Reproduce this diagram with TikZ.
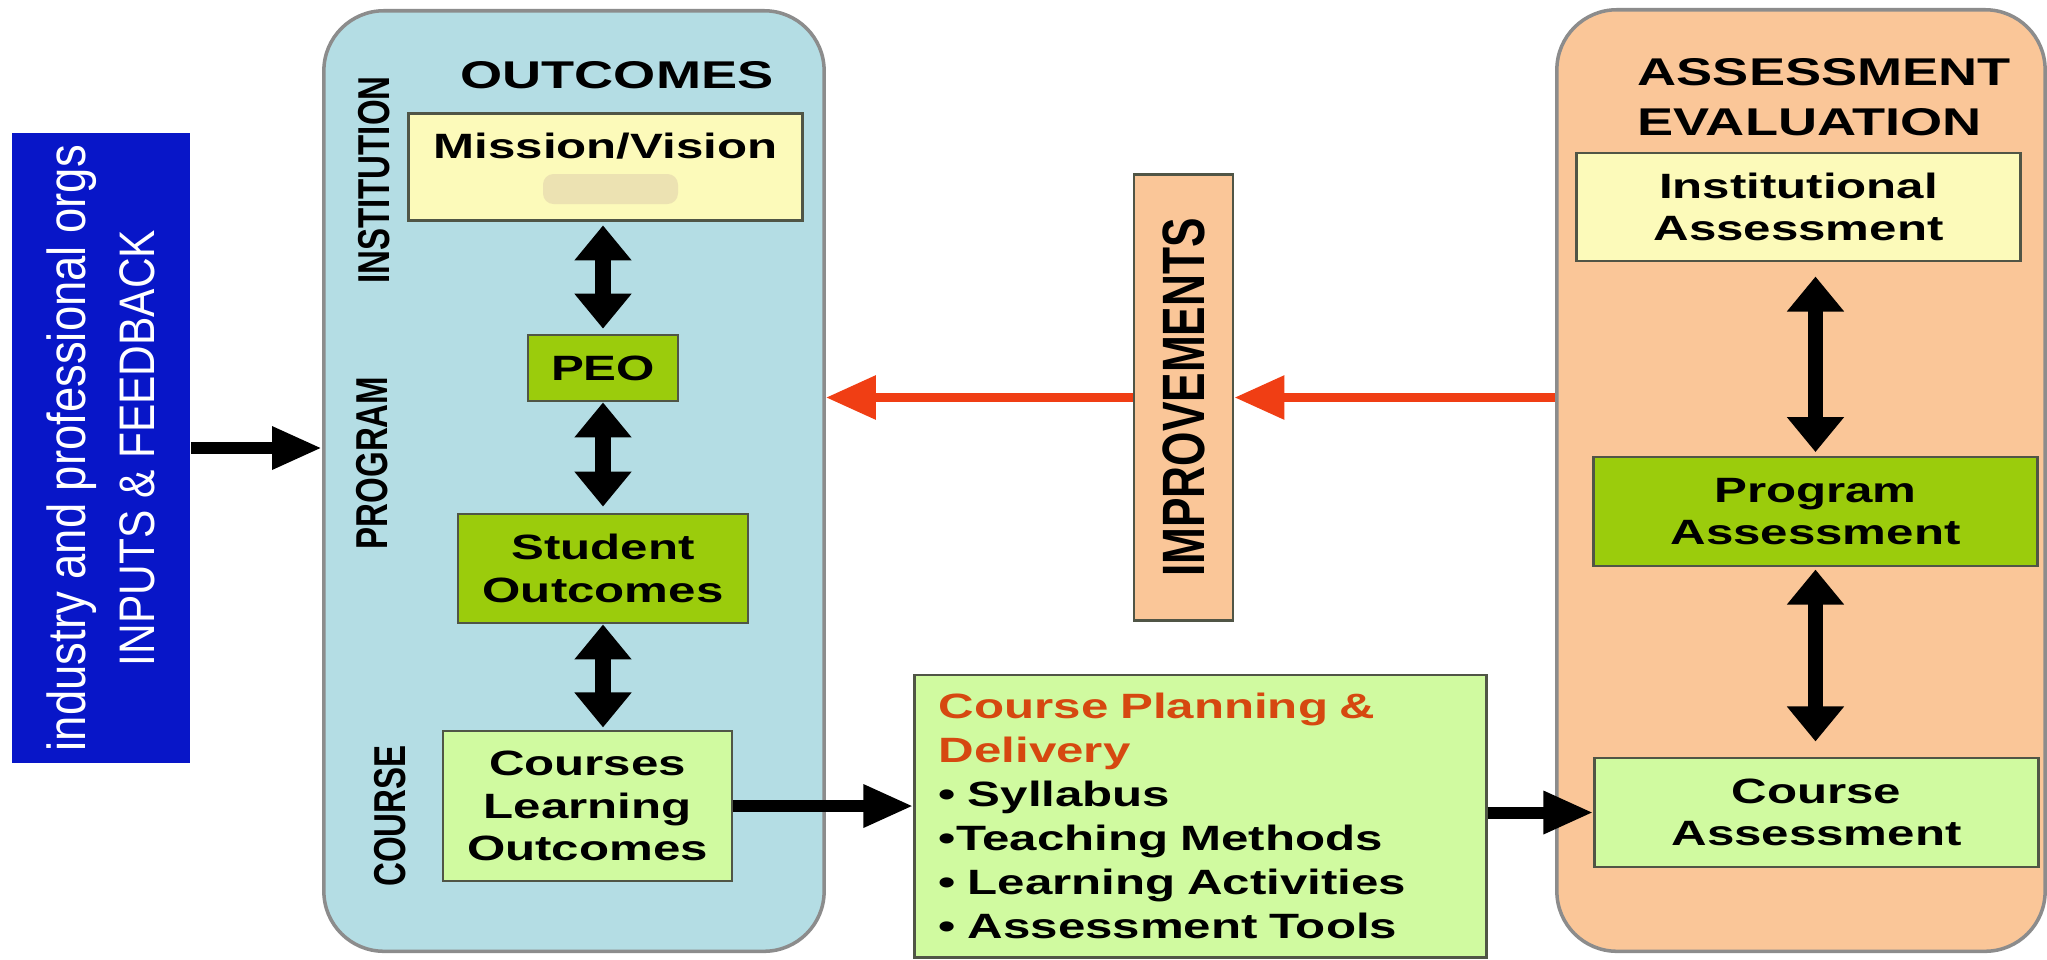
\documentclass[tikz,border=0pt]{standalone}
\usepackage{fontspec}
\setmainfont{Liberation Sans}[FakeStretch=1.4]
\newfontfamily\tallfont{Liberation Sans}[FakeStretch=0.74]
\newfontfamily\sidefont{Liberation Sans}[FakeStretch=0.85]
\usetikzlibrary{arrows.meta}

\definecolor{inputBlue}{RGB}{8,22,200}
\definecolor{outcomeCyan}{RGB}{180,221,228}
\definecolor{paleYellow}{RGB}{252,250,186}
\definecolor{blurTan}{RGB}{236,226,178}
\definecolor{leafGreen}{RGB}{155,204,12}
\definecolor{paleGreen}{RGB}{208,250,160}
\definecolor{peach}{RGB}{250,198,152}
\definecolor{improveRed}{RGB}{240,62,20}
\definecolor{planOrange}{RGB}{214,72,16}
\definecolor{edgeGray}{RGB}{80,85,70}

\tikzset{
  box/.style={draw=edgeGray, line width=0.8pt, inner sep=0pt, align=center,
    font=\bfseries\fontsize{10}{12}\selectfont},
  panel/.style={draw=black!45, line width=1pt, rounded corners=0.6cm, inner sep=0pt},
  sidelabel/.style={rotate=90, font=\tallfont\bfseries\fontsize{12.7}{14}\selectfont},
  title/.style={font=\bfseries\fontsize{11}{14.2}\selectfont, align=left, inner sep=0pt},
  hArrow/.style={line width=3.4pt, -{Triangle[length=0.5cm,width=0.4cm]}},
  vArrow/.style={line width=4.3pt,
    {Triangle[length=0.35cm,width=0.55cm]}-{Triangle[length=0.35cm,width=0.55cm]}},
  redArrow/.style={draw=improveRed, line width=2.6pt, -{Triangle[length=0.5cm,width=0.42cm]}}
}

\begin{document}
\begin{tikzpicture}[x=0.01cm, y=-0.01cm]
    \fill[white] (0,0) rectangle (2047,959);
    \useasboundingbox (0,0) rectangle (2047,959);

    % panels
    \node[panel, fill=outcomeCyan, minimum width=5cm, minimum height=9.4cm] (outPanel) at (574,481) {};
    \node[panel, fill=peach, minimum width=4.88cm, minimum height=9.41cm] (assPanel) at (1801,480.5) {};

    % inputs
    \node[fill=inputBlue, rotate=90, minimum width=6.25cm, minimum height=1.78cm, align=center,
      text=white, font=\sidefont\fontsize{15.2}{19.6}\selectfont] (inputs) at (101,448)
      {industry and professional orgs\\{\fontsize{14.2}{19.6}\selectfont INPUTS \& FEEDBACK}};

    % outcomes
    \node[title] (outTitle) at (617,75.5) {OUTCOMES};
    \node[sidelabel] (instLbl) at (374,180) {INSTITUTION};
    \node[sidelabel] (progLbl) at (372,463) {PROGRAM};
    \node[sidelabel] (courseLbl) at (390,816) {COURSE};

    \node[box, fill=paleYellow, minimum width=3.93cm, text height=0.455cm, text depth=0.615cm,
      anchor=north] (mission) at (605.5,112) {Mission/Vision};
    \fill[blurTan, rounded corners=3pt] (543,174) rectangle (678,204);
    \node[box, fill=leafGreen, minimum width=1.5cm, minimum height=0.66cm] (peo) at (603,368) {PEO};
    \node[box, fill=leafGreen, minimum width=2.9cm, minimum height=1.09cm] (student) at (603,568.5) {Student\\Outcomes};
    \node[box, fill=paleGreen, minimum width=2.89cm, minimum height=1.5cm] (clo) at (587.5,806) {Courses\\Learning\\Outcomes};

    \draw[vArrow, shorten <=1pt, shorten >=1.4pt] (mission.south -| peo.north) -- (peo.north);
    \draw[vArrow, shorten >=1.7pt] (peo.south) -- (peo.south |- student.north);
    \draw[vArrow, shorten >=0.6pt] (student.south) -- (student.south |- clo.north);

    % planning
    \node[box, fill=paleGreen, minimum width=5.71cm, minimum height=2.82cm, text width=5.23cm,
      align=left, inner xsep=0.24cm, font=\bfseries\fontsize{10}{12.5}\selectfont] (plan) at (1200.5,816)
      {{\color{planOrange}Course Planning \&}\\{\color{planOrange}Delivery}\\• Syllabus\\•Teaching Methods\\• Learning Activities\\• Assessment Tools};

    % improvements
    \node[box, fill=peach, rotate=90, minimum width=4.45cm, minimum height=0.99cm,
      font=\tallfont\bfseries\fontsize{17}{20}\selectfont] (impr) at (1183.5,397.5) {IMPROVEMENTS};

    % assessment
    \node[title, anchor=west] (assTitle) at (1637,97.5) {ASSESSMENT\\EVALUATION};
    \node[box, fill=paleYellow, minimum width=4.43cm, minimum height=1.08cm] (instAss) at (1798.5,207) {Institutional\\Assessment};
    \node[box, fill=leafGreen, minimum width=4.43cm, minimum height=1.09cm] (progAss) at (1815.5,511.5) {Program\\Assessment};
    \node[box, fill=paleGreen, minimum width=4.43cm, minimum height=1.09cm] (courseAss) at (1816.5,812.5) {Course\\Assessment};

    \draw[vArrow, shorten <=4pt, shorten >=1pt] (instAss.south -| progAss.north) -- (progAss.north);
    \draw[vArrow, shorten <=0.6pt, shorten >=4.3pt] (progAss.south) -- (progAss.south |- courseAss.north);

    % flow
    \draw[hArrow] (inputs.south) -- (inputs.south -| outPanel.west);
    \draw[hArrow] (clo.east) -- (clo.east -| plan.west);
    \draw[hArrow] (plan.east |- courseAss.west) -- (courseAss.west);
    \draw[redArrow] (impr.south -| assPanel.west) -- (impr.south);
    \draw[redArrow] (impr.north) -- (impr.north -| outPanel.east);
\end{tikzpicture}
\end{document}
